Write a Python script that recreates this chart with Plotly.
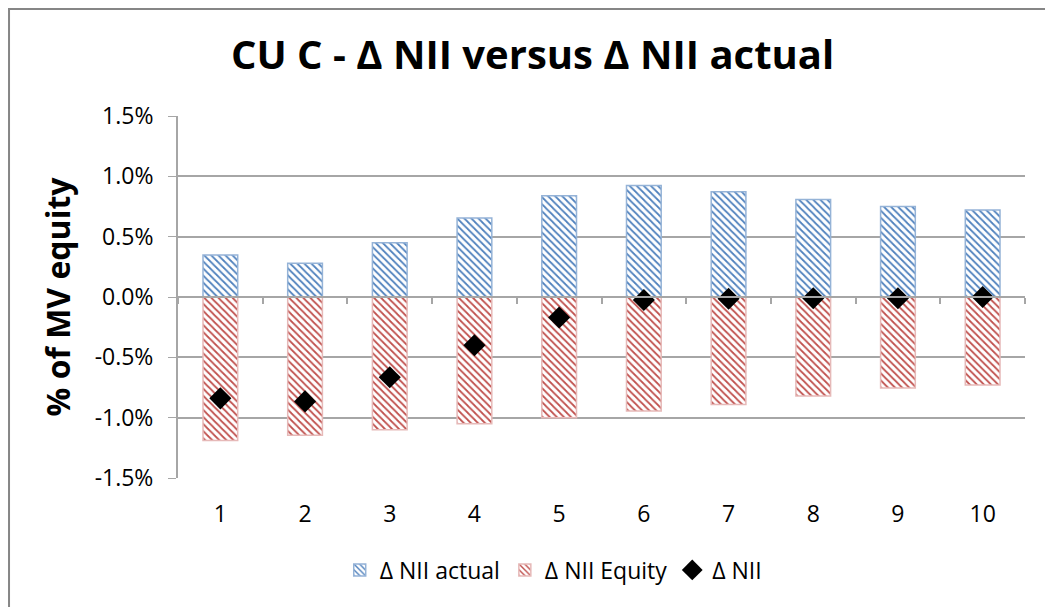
import plotly.graph_objects as go

periods = [1, 2, 3, 4, 5, 6, 7, 8, 9, 10]
nii_actual = [0.348, 0.28, 0.45, 0.655, 0.84, 0.925, 0.873, 0.807, 0.749, 0.72]
nii_equity = [-1.19, -1.145, -1.10, -1.05, -1.00, -0.945, -0.89, -0.82, -0.755, -0.73]
nii = [-0.84, -0.865, -0.665, -0.40, -0.17, -0.025, -0.015, -0.01, -0.01, 0.0]
y_ticks = [-1.5, -1.0, -0.5, 0.0, 0.5, 1.0, 1.5]
y_labels = ["-1.5%", "-1.0%", "-0.5%", "0.0%", "0.5%", "1.0%", "1.5%"]
boundaries = [p - 0.5 for p in periods] + [periods[-1] + 0.5]

FONT = "Open Sans, Calibri, sans-serif"
GRID = "#a6a6a6"

fig = go.Figure()
fig.add_trace(go.Bar(
    x=periods, y=nii_actual, name="Δ NII actual", width=0.41,
    marker={"color": "white", "line": {"color": "#95b3d7", "width": 1.5},
            "pattern": {"shape": "\\", "fgcolor": "#4f81bd", "bgcolor": "white",
                        "size": 5, "solidity": 0.35, "fillmode": "replace"}},
))
fig.add_trace(go.Bar(
    x=periods, y=nii_equity, name="Δ NII Equity", width=0.41,
    marker={"color": "white", "line": {"color": "#e6b9b8", "width": 1.5},
            "pattern": {"shape": "\\", "fgcolor": "#c0504d", "bgcolor": "white",
                        "size": 5, "solidity": 0.35, "fillmode": "replace"}},
))
fig.add_trace(go.Scatter(
    x=periods, y=nii, name="Δ NII", mode="markers",
    marker={"symbol": "diamond", "size": 17, "color": "black"},
))
# axis line with tick marks through zero
fig.add_trace(go.Scatter(x=[None], y=[None], xaxis="x2", showlegend=False, hoverinfo="skip"))

fig.update_layout(
    width=1045, height=599,
    barmode="relative",
    plot_bgcolor="white", paper_bgcolor="white",
    margin={"l": 170, "r": 28, "t": 108, "b": 129},
    font={"family": FONT, "size": 23, "color": "black"},
    title={"text": "<b>CU C - Δ NII versus Δ NII actual</b>", "x": 0.502, "xanchor": "center",
           "y": 0.9215, "yanchor": "middle", "font": {"size": 40, "family": FONT}},
    xaxis={"range": [0.5, 10.5], "tickvals": periods, "showgrid": False, "zeroline": False,
           "showline": False, "ticks": "", "tickfont": {"size": 23}, "ticklabelstandoff": 20},
    xaxis2={"overlaying": "x", "anchor": "free", "position": 0.5, "range": [0.5, 10.5],
            "tickvals": boundaries, "showticklabels": False, "ticks": "outside",
            "ticklen": 6, "tickcolor": GRID, "tickwidth": 2, "showline": True,
            "linecolor": GRID, "linewidth": 2, "showgrid": False, "zeroline": False},
    yaxis={"range": [-1.5, 1.5], "tickvals": y_ticks, "ticktext": y_labels,
           "showgrid": True, "gridcolor": GRID, "gridwidth": 1.5, "zeroline": False,
           "showline": True, "linecolor": GRID, "linewidth": 2, "ticks": "outside",
           "ticklen": 8, "tickcolor": GRID, "tickfont": {"size": 23}, "ticklabelstandoff": 10,
           "title": {"text": "<b>% of MV equity</b>", "font": {"size": 32}, "standoff": 14}},
    legend={"orientation": "h", "x": 0.443, "xanchor": "center", "y": -0.254, "yanchor": "middle",
            "font": {"size": 23}, "itemwidth": 30, "traceorder": "normal"},
    showlegend=True,
    shapes=[{"type": "rect", "xref": "paper", "yref": "paper",
             "x0": -0.1995, "x1": 1.2, "y0": -0.6, "y1": 1.2956,
             "line": {"color": "#868686", "width": 2}, "fillcolor": "rgba(0,0,0,0)",
             "layer": "below"}],
)

fig.write_html("out.html")
